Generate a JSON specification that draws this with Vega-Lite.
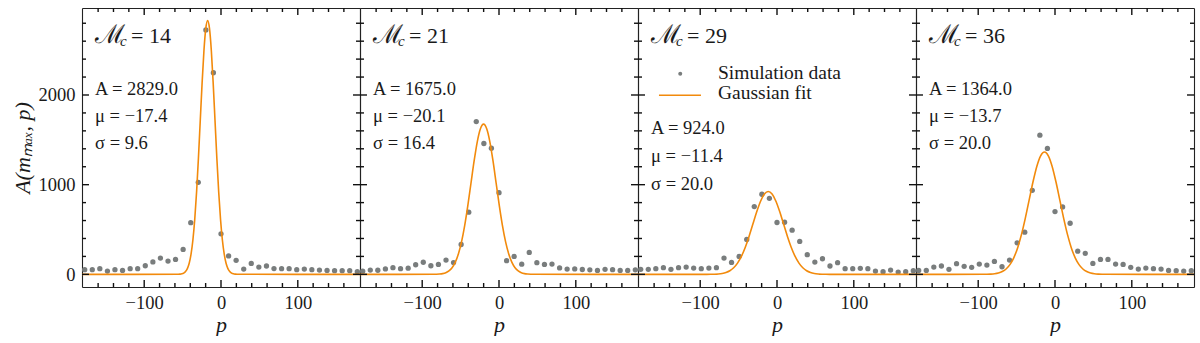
{
"$schema": "https://vega.github.io/schema/vega-lite/v6.json",
"padding": {"left": 11, "top": 7, "right": 8, "bottom": 0},
"spacing": 0,
"bounds": "flush",
"config": {
  "font": "Liberation Serif",
  "view": {"stroke": null},
  "axis": {"domainColor": "#222222", "domainWidth": 1.1, "labelFontSize": 18.5, "labelColor": "#1a1a1a", "titleColor": "#1a1a1a", "titleFontWeight": "normal", "grid": false, "labelFont": "Liberation Serif", "titleFont": "Liberation Serif", "minExtent": 0},
  "text": {"font": "Liberation Serif", "color": "#1a1a1a"},
  "rule": {"color": "#111111", "strokeWidth": 1.4}
},
"datasets": {
  "labels": [
    {"panel": 1, "mc": "= 14", "amp": "A = 2829.0", "mu": "μ = −17.4", "sigma": "σ = 9.6"},
    {"panel": 2, "mc": "= 21", "amp": "A = 1675.0", "mu": "μ = −20.1", "sigma": "σ = 16.4"},
    {"panel": 3, "mc": "= 29", "amp": "A = 924.0", "mu": "μ = −11.4", "sigma": "σ = 20.0"},
    {"panel": 4, "mc": "= 36", "amp": "A = 1364.0", "mu": "μ = −13.7", "sigma": "σ = 20.0"}
  ],
  "legend": [
    {"item": "Simulation data"},
    {"item": "Gaussian fit"}
  ],
  "tickvals": [
    {"dir":"x","kind":"major","v":-100},{"dir":"x","kind":"major","v":0},{"dir":"x","kind":"major","v":100},
    {"dir":"x","kind":"minor","v":-160},{"dir":"x","kind":"minor","v":-140},{"dir":"x","kind":"minor","v":-120},{"dir":"x","kind":"minor","v":-80},{"dir":"x","kind":"minor","v":-60},{"dir":"x","kind":"minor","v":-40},{"dir":"x","kind":"minor","v":-20},{"dir":"x","kind":"minor","v":20},{"dir":"x","kind":"minor","v":40},{"dir":"x","kind":"minor","v":60},{"dir":"x","kind":"minor","v":80},{"dir":"x","kind":"minor","v":120},{"dir":"x","kind":"minor","v":140},{"dir":"x","kind":"minor","v":160},
    {"dir":"y","kind":"major","v":0},{"dir":"y","kind":"major","v":1000},{"dir":"y","kind":"major","v":2000},
    {"dir":"y","kind":"minor","v":200},{"dir":"y","kind":"minor","v":400},{"dir":"y","kind":"minor","v":600},{"dir":"y","kind":"minor","v":800},{"dir":"y","kind":"minor","v":1200},{"dir":"y","kind":"minor","v":1400},{"dir":"y","kind":"minor","v":1600},{"dir":"y","kind":"minor","v":1800},{"dir":"y","kind":"minor","v":2200},{"dir":"y","kind":"minor","v":2400},{"dir":"y","kind":"minor","v":2600},{"dir":"y","kind":"minor","v":2800}
  ],
  "points": [
    {"panel":1,"p":-177.5,"A":52},{"panel":1,"p":-167.6,"A":52},{"panel":1,"p":-157.8,"A":63},{"panel":1,"p":-147.9,"A":37},{"panel":1,"p":-138.1,"A":52},{"panel":1,"p":-128.2,"A":44},{"panel":1,"p":-118.3,"A":63},{"panel":1,"p":-108.5,"A":63},{"panel":1,"p":-98.6,"A":96},{"panel":1,"p":-88.7,"A":139},{"panel":1,"p":-78.9,"A":181},{"panel":1,"p":-69,"A":148},{"panel":1,"p":-59.2,"A":167},{"panel":1,"p":-49.3,"A":278},{"panel":1,"p":-39.4,"A":576},{"panel":1,"p":-29.6,"A":1026},{"panel":1,"p":-19.7,"A":2726},{"panel":1,"p":-9.9,"A":2248},{"panel":1,"p":0,"A":452},{"panel":1,"p":9.9,"A":206},{"panel":1,"p":19.7,"A":156},{"panel":1,"p":29.6,"A":59},{"panel":1,"p":39.4,"A":122},{"panel":1,"p":49.3,"A":81},{"panel":1,"p":59.2,"A":93},{"panel":1,"p":69,"A":65},{"panel":1,"p":78.9,"A":63},{"panel":1,"p":88.7,"A":63},{"panel":1,"p":98.6,"A":52},{"panel":1,"p":108.5,"A":59},{"panel":1,"p":118.3,"A":52},{"panel":1,"p":128.2,"A":48},{"panel":1,"p":138.1,"A":44},{"panel":1,"p":147.9,"A":41},{"panel":1,"p":157.8,"A":41},{"panel":1,"p":167.6,"A":41},{"panel":1,"p":177.5,"A":30},
    {"panel":2,"p":-177.5,"A":35},{"panel":2,"p":-167.6,"A":48},{"panel":2,"p":-157.8,"A":46},{"panel":2,"p":-147.9,"A":61},{"panel":2,"p":-138.1,"A":74},{"panel":2,"p":-128.2,"A":63},{"panel":2,"p":-118.3,"A":69},{"panel":2,"p":-108.5,"A":107},{"panel":2,"p":-98.6,"A":135},{"panel":2,"p":-88.7,"A":96},{"panel":2,"p":-78.9,"A":111},{"panel":2,"p":-69,"A":159},{"panel":2,"p":-59.2,"A":131},{"panel":2,"p":-49.3,"A":333},{"panel":2,"p":-39.4,"A":693},{"panel":2,"p":-29.6,"A":1704},{"panel":2,"p":-19.7,"A":1459},{"panel":2,"p":-9.9,"A":1407},{"panel":2,"p":0,"A":911},{"panel":2,"p":9.9,"A":152},{"panel":2,"p":19.7,"A":200},{"panel":2,"p":29.6,"A":113},{"panel":2,"p":39.4,"A":244},{"panel":2,"p":49.3,"A":130},{"panel":2,"p":59.2,"A":111},{"panel":2,"p":69,"A":115},{"panel":2,"p":78.9,"A":72},{"panel":2,"p":88.7,"A":59},{"panel":2,"p":98.6,"A":61},{"panel":2,"p":108.5,"A":54},{"panel":2,"p":118.3,"A":50},{"panel":2,"p":128.2,"A":44},{"panel":2,"p":138.1,"A":56},{"panel":2,"p":147.9,"A":52},{"panel":2,"p":157.8,"A":44},{"panel":2,"p":167.6,"A":44},{"panel":2,"p":177.5,"A":50},
    {"panel":3,"p":-177.5,"A":56},{"panel":3,"p":-167.6,"A":56},{"panel":3,"p":-157.8,"A":63},{"panel":3,"p":-147.9,"A":74},{"panel":3,"p":-138.1,"A":56},{"panel":3,"p":-128.2,"A":74},{"panel":3,"p":-118.3,"A":81},{"panel":3,"p":-108.5,"A":70},{"panel":3,"p":-98.6,"A":63},{"panel":3,"p":-88.7,"A":70},{"panel":3,"p":-78.9,"A":74},{"panel":3,"p":-69,"A":181},{"panel":3,"p":-59.2,"A":133},{"panel":3,"p":-49.3,"A":200},{"panel":3,"p":-39.4,"A":389},{"panel":3,"p":-29.6,"A":756},{"panel":3,"p":-19.7,"A":893},{"panel":3,"p":-9.9,"A":848},{"panel":3,"p":0,"A":578},{"panel":3,"p":9.9,"A":581},{"panel":3,"p":19.7,"A":493},{"panel":3,"p":29.6,"A":367},{"panel":3,"p":39.4,"A":219},{"panel":3,"p":49.3,"A":137},{"panel":3,"p":59.2,"A":174},{"panel":3,"p":69,"A":93},{"panel":3,"p":78.9,"A":130},{"panel":3,"p":88.7,"A":63},{"panel":3,"p":98.6,"A":63},{"panel":3,"p":108.5,"A":67},{"panel":3,"p":118.3,"A":63},{"panel":3,"p":128.2,"A":37},{"panel":3,"p":138.1,"A":30},{"panel":3,"p":147.9,"A":48},{"panel":3,"p":157.8,"A":26},{"panel":3,"p":167.6,"A":30},{"panel":3,"p":177.5,"A":41},
    {"panel":4,"p":-177.5,"A":44},{"panel":4,"p":-167.6,"A":44},{"panel":4,"p":-157.8,"A":81},{"panel":4,"p":-147.9,"A":93},{"panel":4,"p":-138.1,"A":56},{"panel":4,"p":-128.2,"A":119},{"panel":4,"p":-118.3,"A":89},{"panel":4,"p":-108.5,"A":78},{"panel":4,"p":-98.6,"A":115},{"panel":4,"p":-88.7,"A":104},{"panel":4,"p":-78.9,"A":144},{"panel":4,"p":-69,"A":85},{"panel":4,"p":-59.2,"A":159},{"panel":4,"p":-49.3,"A":352},{"panel":4,"p":-39.4,"A":470},{"panel":4,"p":-29.6,"A":937},{"panel":4,"p":-19.7,"A":1552},{"panel":4,"p":-9.9,"A":1404},{"panel":4,"p":0,"A":700},{"panel":4,"p":9.9,"A":752},{"panel":4,"p":19.7,"A":570},{"panel":4,"p":29.6,"A":259},{"panel":4,"p":39.4,"A":233},{"panel":4,"p":49.3,"A":122},{"panel":4,"p":59.2,"A":167},{"panel":4,"p":69,"A":167},{"panel":4,"p":78.9,"A":115},{"panel":4,"p":88.7,"A":111},{"panel":4,"p":98.6,"A":78},{"panel":4,"p":108.5,"A":59},{"panel":4,"p":118.3,"A":70},{"panel":4,"p":128.2,"A":63},{"panel":4,"p":138.1,"A":59},{"panel":4,"p":147.9,"A":44},{"panel":4,"p":157.8,"A":41},{"panel":4,"p":167.6,"A":37},{"panel":4,"p":177.5,"A":41}
  ],
  "fit": [
    {"panel":1,"p":-181,"A":0},{"panel":1,"p":-55.8,"A":0.9},{"panel":1,"p":-53.4,"A":2.5},{"panel":1,"p":-51,"A":6.2},{"panel":1,"p":-48.6,"A":14.4},{"panel":1,"p":-46.2,"A":31.4},{"panel":1,"p":-43.8,"A":64.5},{"panel":1,"p":-41.4,"A":124.3},{"panel":1,"p":-39,"A":225.1},{"panel":1,"p":-36.6,"A":382.9},{"panel":1,"p":-34.2,"A":611.8},{"panel":1,"p":-31.8,"A":918.4},{"panel":1,"p":-29.4,"A":1295.2},{"panel":1,"p":-27,"A":1715.9},{"panel":1,"p":-24.6,"A":2135.4},{"panel":1,"p":-22.2,"A":2496.6},{"panel":1,"p":-19.8,"A":2741.9},{"panel":1,"p":-17.4,"A":2829},{"panel":1,"p":-15,"A":2741.9},{"panel":1,"p":-12.6,"A":2496.6},{"panel":1,"p":-10.2,"A":2135.4},{"panel":1,"p":-7.8,"A":1715.9},{"panel":1,"p":-5.4,"A":1295.2},{"panel":1,"p":-3,"A":918.4},{"panel":1,"p":-0.6,"A":611.8},{"panel":1,"p":1.8,"A":382.9},{"panel":1,"p":4.2,"A":225.1},{"panel":1,"p":6.6,"A":124.3},{"panel":1,"p":9,"A":64.5},{"panel":1,"p":11.4,"A":31.4},{"panel":1,"p":13.8,"A":14.4},{"panel":1,"p":16.2,"A":6.2},{"panel":1,"p":18.6,"A":2.5},{"panel":1,"p":21,"A":0.9},{"panel":1,"p":181,"A":0},
    {"panel":2,"p":-181,"A":0},{"panel":2,"p":-85.7,"A":0.6},{"panel":2,"p":-81.6,"A":1.5},{"panel":2,"p":-77.5,"A":3.7},{"panel":2,"p":-73.4,"A":8.5},{"panel":2,"p":-69.3,"A":18.6},{"panel":2,"p":-65.2,"A":38.2},{"panel":2,"p":-61.1,"A":73.6},{"panel":2,"p":-57,"A":133.3},{"panel":2,"p":-52.9,"A":226.7},{"panel":2,"p":-48.8,"A":362.3},{"panel":2,"p":-44.7,"A":543.8},{"panel":2,"p":-40.6,"A":766.9},{"panel":2,"p":-36.5,"A":1015.9},{"panel":2,"p":-32.4,"A":1264.4},{"panel":2,"p":-28.3,"A":1478.2},{"panel":2,"p":-24.2,"A":1623.5},{"panel":2,"p":-20.1,"A":1675},{"panel":2,"p":-16,"A":1623.5},{"panel":2,"p":-11.9,"A":1478.2},{"panel":2,"p":-7.8,"A":1264.4},{"panel":2,"p":-3.7,"A":1015.9},{"panel":2,"p":0.4,"A":766.9},{"panel":2,"p":4.5,"A":543.8},{"panel":2,"p":8.6,"A":362.3},{"panel":2,"p":12.7,"A":226.7},{"panel":2,"p":16.8,"A":133.3},{"panel":2,"p":20.9,"A":73.6},{"panel":2,"p":25,"A":38.2},{"panel":2,"p":29.1,"A":18.6},{"panel":2,"p":33.2,"A":8.5},{"panel":2,"p":37.3,"A":3.7},{"panel":2,"p":41.4,"A":1.5},{"panel":2,"p":45.5,"A":0.6},{"panel":2,"p":181,"A":0},
    {"panel":3,"p":-181,"A":0},{"panel":3,"p":-91.4,"A":0.3},{"panel":3,"p":-86.4,"A":0.8},{"panel":3,"p":-81.4,"A":2},{"panel":3,"p":-76.4,"A":4.7},{"panel":3,"p":-71.4,"A":10.3},{"panel":3,"p":-66.4,"A":21.1},{"panel":3,"p":-61.4,"A":40.6},{"panel":3,"p":-56.4,"A":73.5},{"panel":3,"p":-51.4,"A":125.1},{"panel":3,"p":-46.4,"A":199.8},{"panel":3,"p":-41.4,"A":300},{"panel":3,"p":-36.4,"A":423},{"panel":3,"p":-31.4,"A":560.4},{"panel":3,"p":-26.4,"A":697.5},{"panel":3,"p":-21.4,"A":815.4},{"panel":3,"p":-16.4,"A":895.6},{"panel":3,"p":-11.4,"A":924},{"panel":3,"p":-6.4,"A":895.6},{"panel":3,"p":-1.4,"A":815.4},{"panel":3,"p":3.6,"A":697.5},{"panel":3,"p":8.6,"A":560.4},{"panel":3,"p":13.6,"A":423},{"panel":3,"p":18.6,"A":300},{"panel":3,"p":23.6,"A":199.8},{"panel":3,"p":28.6,"A":125.1},{"panel":3,"p":33.6,"A":73.5},{"panel":3,"p":38.6,"A":40.6},{"panel":3,"p":43.6,"A":21.1},{"panel":3,"p":48.6,"A":10.3},{"panel":3,"p":53.6,"A":4.7},{"panel":3,"p":58.6,"A":2},{"panel":3,"p":63.6,"A":0.8},{"panel":3,"p":68.6,"A":0.3},{"panel":3,"p":181,"A":0},
    {"panel":4,"p":-181,"A":0},{"panel":4,"p":-93.7,"A":0.5},{"panel":4,"p":-88.7,"A":1.2},{"panel":4,"p":-83.7,"A":3},{"panel":4,"p":-78.7,"A":6.9},{"panel":4,"p":-73.7,"A":15.2},{"panel":4,"p":-68.7,"A":31.1},{"panel":4,"p":-63.7,"A":59.9},{"panel":4,"p":-58.7,"A":108.5},{"panel":4,"p":-53.7,"A":184.6},{"panel":4,"p":-48.7,"A":295},{"panel":4,"p":-43.7,"A":442.8},{"panel":4,"p":-38.7,"A":624.5},{"panel":4,"p":-33.7,"A":827.3},{"panel":4,"p":-28.7,"A":1029.6},{"panel":4,"p":-23.7,"A":1203.7},{"panel":4,"p":-18.7,"A":1322},{"panel":4,"p":-13.7,"A":1364},{"panel":4,"p":-8.7,"A":1322},{"panel":4,"p":-3.7,"A":1203.7},{"panel":4,"p":1.3,"A":1029.6},{"panel":4,"p":6.3,"A":827.3},{"panel":4,"p":11.3,"A":624.5},{"panel":4,"p":16.3,"A":442.8},{"panel":4,"p":21.3,"A":295},{"panel":4,"p":26.3,"A":184.6},{"panel":4,"p":31.3,"A":108.5},{"panel":4,"p":36.3,"A":59.9},{"panel":4,"p":41.3,"A":31.1},{"panel":4,"p":46.3,"A":15.2},{"panel":4,"p":51.3,"A":6.9},{"panel":4,"p":56.3,"A":3},{"panel":4,"p":61.3,"A":1.2},{"panel":4,"p":66.3,"A":0.5},{"panel":4,"p":181,"A":0}
  ]
},
"hconcat": [
  {
    "width": 278, "height": 279,
    "resolve": {"axis": {"x": "independent", "y": "independent"}},
    "layer": [
      {"data": {"name": "points"}, "transform": [{"filter": "datum.panel === 1"}],
       "mark": {"type": "point", "filled": true, "size": 28, "opacity": 1, "color": "#797d7d"},
       "encoding": {
         "x": {"field": "p", "type": "quantitative", "scale": {"domain": [-181, 181], "nice": false, "zero": false},
               "axis": {"orient": "bottom", "values": [-100, 0, 100], "format": "d", "ticks": false, "labelPadding": 6, "labelFlush": false, "title": "p", "titleFontStyle": "italic", "titleFontSize": 22, "titlePadding": 3}},
         "y": {"field": "A", "type": "quantitative", "scale": {"domain": [-141, 2970], "nice": false, "zero": false},
               "axis": {"orient": "left", "values": [0, 1000, 2000], "format": "d", "ticks": false, "labelPadding": 7, "labelFlush": false, "title": "A(mₘₐₓ, p)", "titleFontStyle": "italic", "titleFontSize": 22, "titlePadding": 4}}
       }},
      {"data": {"name": "fit"}, "transform": [{"filter": "datum.panel === 1"}],
       "mark": {"type": "line", "color": "#f28a0c", "strokeWidth": 1.6, "interpolate": "monotone", "clip": true},
       "encoding": {
         "x": {"field": "p", "type": "quantitative", "scale": {"domain": [-181, 181], "nice": false, "zero": false}, "axis": {"orient": "top", "values": [0], "ticks": false, "labels": false, "title": null}},
         "y": {"field": "A", "type": "quantitative", "scale": {"domain": [-141, 2970], "nice": false, "zero": false}, "axis": {"orient": "right", "values": [0], "ticks": false, "labels": false, "title": null}}
       }},
      {"data": {"name": "tickvals"}, "transform": [{"filter": "datum.dir === 'x' && datum.kind === 'major'"}], "mark": "rule",
       "encoding": {"x": {"field": "v", "type": "quantitative", "axis": null}, "y": {"datum": -141, "type": "quantitative", "axis": null}, "y2": {"datum": -63}}},
      {"data": {"name": "tickvals"}, "transform": [{"filter": "datum.dir === 'x' && datum.kind === 'minor'"}], "mark": "rule",
       "encoding": {"x": {"field": "v", "type": "quantitative", "axis": null}, "y": {"datum": -141, "type": "quantitative", "axis": null}, "y2": {"datum": -96.4}}},
      {"data": {"name": "tickvals"}, "transform": [{"filter": "datum.dir === 'x' && datum.kind === 'major'"}], "mark": "rule",
       "encoding": {"x": {"field": "v", "type": "quantitative", "axis": null}, "y": {"datum": 2970, "type": "quantitative", "axis": null}, "y2": {"datum": 2892}}},
      {"data": {"name": "tickvals"}, "transform": [{"filter": "datum.dir === 'x' && datum.kind === 'minor'"}], "mark": "rule",
       "encoding": {"x": {"field": "v", "type": "quantitative", "axis": null}, "y": {"datum": 2970, "type": "quantitative", "axis": null}, "y2": {"datum": 2925.4}}},
      {"data": {"name": "tickvals"}, "transform": [{"filter": "datum.dir === 'y' && datum.kind === 'major'"}], "mark": "rule",
       "encoding": {"y": {"field": "v", "type": "quantitative", "axis": null}, "x": {"datum": -181, "type": "quantitative", "axis": null}, "x2": {"datum": -171.9}}},
      {"data": {"name": "tickvals"}, "transform": [{"filter": "datum.dir === 'y' && datum.kind === 'minor'"}], "mark": "rule",
       "encoding": {"y": {"field": "v", "type": "quantitative", "axis": null}, "x": {"datum": -181, "type": "quantitative", "axis": null}, "x2": {"datum": -175.8}}},
      {"data": {"name": "tickvals"}, "transform": [{"filter": "datum.dir === 'y' && datum.kind === 'major'"}], "mark": "rule",
       "encoding": {"y": {"field": "v", "type": "quantitative", "axis": null}, "x": {"datum": 181, "type": "quantitative", "axis": null}, "x2": {"datum": 171.9}}},
      {"data": {"name": "tickvals"}, "transform": [{"filter": "datum.dir === 'y' && datum.kind === 'minor'"}], "mark": "rule",
       "encoding": {"y": {"field": "v", "type": "quantitative", "axis": null}, "x": {"datum": 181, "type": "quantitative", "axis": null}, "x2": {"datum": 175.8}}},
      {"data": {"name": "labels"}, "transform": [{"filter": "datum.panel === 1"}],
       "mark": {"type": "text", "align": "left", "baseline": "alphabetic", "fontSize": 18.5},
       "encoding": {"x": {"datum": -164, "type": "quantitative", "axis": null}, "y": {"datum": 2000, "type": "quantitative", "axis": null}, "text": {"field": "amp"}}},
      {"data": {"name": "labels"}, "transform": [{"filter": "datum.panel === 1"}],
       "mark": {"type": "text", "align": "left", "baseline": "alphabetic", "fontSize": 18.5},
       "encoding": {"x": {"datum": -164, "type": "quantitative", "axis": null}, "y": {"datum": 1702, "type": "quantitative", "axis": null}, "text": {"field": "mu"}}},
      {"data": {"name": "labels"}, "transform": [{"filter": "datum.panel === 1"}],
       "mark": {"type": "text", "align": "left", "baseline": "alphabetic", "fontSize": 18.5},
       "encoding": {"x": {"datum": -164, "type": "quantitative", "axis": null}, "y": {"datum": 1394, "type": "quantitative", "axis": null}, "text": {"field": "sigma"}}},
      {"data": {"name": "labels"}, "transform": [{"filter": "datum.panel === 1"}],
       "mark": {"type": "text", "align": "left", "baseline": "alphabetic", "fontSize": 26, "font": "DejaVu Serif"},
       "encoding": {"x": {"datum": -164, "type": "quantitative", "axis": null}, "y": {"datum": 2576, "type": "quantitative", "axis": null}, "text": {"value": "ℳ"}}},
      {"data": {"name": "labels"}, "transform": [{"filter": "datum.panel === 1"}],
       "mark": {"type": "text", "align": "left", "baseline": "alphabetic", "fontSize": 15, "fontStyle": "italic", "dx": 25, "dy": 3},
       "encoding": {"x": {"datum": -164, "type": "quantitative", "axis": null}, "y": {"datum": 2576, "type": "quantitative", "axis": null}, "text": {"value": "c"}}},
      {"data": {"name": "labels"}, "transform": [{"filter": "datum.panel === 1"}],
       "mark": {"type": "text", "align": "left", "baseline": "alphabetic", "fontSize": 22, "dx": 36},
       "encoding": {"x": {"datum": -164, "type": "quantitative", "axis": null}, "y": {"datum": 2576, "type": "quantitative", "axis": null}, "text": {"field": "mc"}}}
    ]
  },
  {
    "width": 278, "height": 279,
    "resolve": {"axis": {"x": "independent", "y": "independent"}},
    "layer": [
      {"data": {"name": "points"}, "transform": [{"filter": "datum.panel === 2"}],
       "mark": {"type": "point", "filled": true, "size": 28, "opacity": 1, "color": "#797d7d"},
       "encoding": {
         "x": {"field": "p", "type": "quantitative", "scale": {"domain": [-181, 181], "nice": false, "zero": false},
               "axis": {"orient": "bottom", "values": [-100, 0, 100], "format": "d", "ticks": false, "labelPadding": 6, "labelFlush": false, "title": "p", "titleFontStyle": "italic", "titleFontSize": 22, "titlePadding": 3}},
         "y": {"field": "A", "type": "quantitative", "scale": {"domain": [-141, 2970], "nice": false, "zero": false},
               "axis": {"orient": "left", "values": [0], "ticks": false, "labels": false, "title": null}}
       }},
      {"data": {"name": "fit"}, "transform": [{"filter": "datum.panel === 2"}],
       "mark": {"type": "line", "color": "#f28a0c", "strokeWidth": 1.6, "interpolate": "monotone", "clip": true},
       "encoding": {
         "x": {"field": "p", "type": "quantitative", "scale": {"domain": [-181, 181], "nice": false, "zero": false}, "axis": {"orient": "top", "values": [0], "ticks": false, "labels": false, "title": null}},
         "y": {"field": "A", "type": "quantitative", "scale": {"domain": [-141, 2970], "nice": false, "zero": false}, "axis": {"orient": "right", "values": [0], "ticks": false, "labels": false, "title": null}}
       }},
      {"data": {"name": "tickvals"}, "transform": [{"filter": "datum.dir === 'x' && datum.kind === 'major'"}], "mark": "rule",
       "encoding": {"x": {"field": "v", "type": "quantitative", "axis": null}, "y": {"datum": -141, "type": "quantitative", "axis": null}, "y2": {"datum": -63}}},
      {"data": {"name": "tickvals"}, "transform": [{"filter": "datum.dir === 'x' && datum.kind === 'minor'"}], "mark": "rule",
       "encoding": {"x": {"field": "v", "type": "quantitative", "axis": null}, "y": {"datum": -141, "type": "quantitative", "axis": null}, "y2": {"datum": -96.4}}},
      {"data": {"name": "tickvals"}, "transform": [{"filter": "datum.dir === 'x' && datum.kind === 'major'"}], "mark": "rule",
       "encoding": {"x": {"field": "v", "type": "quantitative", "axis": null}, "y": {"datum": 2970, "type": "quantitative", "axis": null}, "y2": {"datum": 2892}}},
      {"data": {"name": "tickvals"}, "transform": [{"filter": "datum.dir === 'x' && datum.kind === 'minor'"}], "mark": "rule",
       "encoding": {"x": {"field": "v", "type": "quantitative", "axis": null}, "y": {"datum": 2970, "type": "quantitative", "axis": null}, "y2": {"datum": 2925.4}}},
      {"data": {"name": "tickvals"}, "transform": [{"filter": "datum.dir === 'y' && datum.kind === 'major'"}], "mark": "rule",
       "encoding": {"y": {"field": "v", "type": "quantitative", "axis": null}, "x": {"datum": -181, "type": "quantitative", "axis": null}, "x2": {"datum": -171.9}}},
      {"data": {"name": "tickvals"}, "transform": [{"filter": "datum.dir === 'y' && datum.kind === 'minor'"}], "mark": "rule",
       "encoding": {"y": {"field": "v", "type": "quantitative", "axis": null}, "x": {"datum": -181, "type": "quantitative", "axis": null}, "x2": {"datum": -175.8}}},
      {"data": {"name": "tickvals"}, "transform": [{"filter": "datum.dir === 'y' && datum.kind === 'major'"}], "mark": "rule",
       "encoding": {"y": {"field": "v", "type": "quantitative", "axis": null}, "x": {"datum": 181, "type": "quantitative", "axis": null}, "x2": {"datum": 171.9}}},
      {"data": {"name": "tickvals"}, "transform": [{"filter": "datum.dir === 'y' && datum.kind === 'minor'"}], "mark": "rule",
       "encoding": {"y": {"field": "v", "type": "quantitative", "axis": null}, "x": {"datum": 181, "type": "quantitative", "axis": null}, "x2": {"datum": 175.8}}},
      {"data": {"name": "labels"}, "transform": [{"filter": "datum.panel === 2"}],
       "mark": {"type": "text", "align": "left", "baseline": "alphabetic", "fontSize": 18.5},
       "encoding": {"x": {"datum": -164, "type": "quantitative", "axis": null}, "y": {"datum": 2000, "type": "quantitative", "axis": null}, "text": {"field": "amp"}}},
      {"data": {"name": "labels"}, "transform": [{"filter": "datum.panel === 2"}],
       "mark": {"type": "text", "align": "left", "baseline": "alphabetic", "fontSize": 18.5},
       "encoding": {"x": {"datum": -164, "type": "quantitative", "axis": null}, "y": {"datum": 1702, "type": "quantitative", "axis": null}, "text": {"field": "mu"}}},
      {"data": {"name": "labels"}, "transform": [{"filter": "datum.panel === 2"}],
       "mark": {"type": "text", "align": "left", "baseline": "alphabetic", "fontSize": 18.5},
       "encoding": {"x": {"datum": -164, "type": "quantitative", "axis": null}, "y": {"datum": 1394, "type": "quantitative", "axis": null}, "text": {"field": "sigma"}}},
      {"data": {"name": "labels"}, "transform": [{"filter": "datum.panel === 2"}],
       "mark": {"type": "text", "align": "left", "baseline": "alphabetic", "fontSize": 26, "font": "DejaVu Serif"},
       "encoding": {"x": {"datum": -164, "type": "quantitative", "axis": null}, "y": {"datum": 2576, "type": "quantitative", "axis": null}, "text": {"value": "ℳ"}}},
      {"data": {"name": "labels"}, "transform": [{"filter": "datum.panel === 2"}],
       "mark": {"type": "text", "align": "left", "baseline": "alphabetic", "fontSize": 15, "fontStyle": "italic", "dx": 25, "dy": 3},
       "encoding": {"x": {"datum": -164, "type": "quantitative", "axis": null}, "y": {"datum": 2576, "type": "quantitative", "axis": null}, "text": {"value": "c"}}},
      {"data": {"name": "labels"}, "transform": [{"filter": "datum.panel === 2"}],
       "mark": {"type": "text", "align": "left", "baseline": "alphabetic", "fontSize": 22, "dx": 36},
       "encoding": {"x": {"datum": -164, "type": "quantitative", "axis": null}, "y": {"datum": 2576, "type": "quantitative", "axis": null}, "text": {"field": "mc"}}}
    ]
  },
  {
    "width": 278, "height": 279,
    "resolve": {"axis": {"x": "independent", "y": "independent"}},
    "layer": [
      {"data": {"name": "points"}, "transform": [{"filter": "datum.panel === 3"}],
       "mark": {"type": "point", "filled": true, "size": 28, "opacity": 1, "color": "#797d7d"},
       "encoding": {
         "x": {"field": "p", "type": "quantitative", "scale": {"domain": [-181, 181], "nice": false, "zero": false},
               "axis": {"orient": "bottom", "values": [-100, 0, 100], "format": "d", "ticks": false, "labelPadding": 6, "labelFlush": false, "title": "p", "titleFontStyle": "italic", "titleFontSize": 22, "titlePadding": 3}},
         "y": {"field": "A", "type": "quantitative", "scale": {"domain": [-141, 2970], "nice": false, "zero": false},
               "axis": {"orient": "left", "values": [0], "ticks": false, "labels": false, "title": null}}
       }},
      {"data": {"name": "fit"}, "transform": [{"filter": "datum.panel === 3"}],
       "mark": {"type": "line", "color": "#f28a0c", "strokeWidth": 1.6, "interpolate": "monotone", "clip": true},
       "encoding": {
         "x": {"field": "p", "type": "quantitative", "scale": {"domain": [-181, 181], "nice": false, "zero": false}, "axis": {"orient": "top", "values": [0], "ticks": false, "labels": false, "title": null}},
         "y": {"field": "A", "type": "quantitative", "scale": {"domain": [-141, 2970], "nice": false, "zero": false}, "axis": {"orient": "right", "values": [0], "ticks": false, "labels": false, "title": null}}
       }},
      {"data": {"name": "tickvals"}, "transform": [{"filter": "datum.dir === 'x' && datum.kind === 'major'"}], "mark": "rule",
       "encoding": {"x": {"field": "v", "type": "quantitative", "axis": null}, "y": {"datum": -141, "type": "quantitative", "axis": null}, "y2": {"datum": -63}}},
      {"data": {"name": "tickvals"}, "transform": [{"filter": "datum.dir === 'x' && datum.kind === 'minor'"}], "mark": "rule",
       "encoding": {"x": {"field": "v", "type": "quantitative", "axis": null}, "y": {"datum": -141, "type": "quantitative", "axis": null}, "y2": {"datum": -96.4}}},
      {"data": {"name": "tickvals"}, "transform": [{"filter": "datum.dir === 'x' && datum.kind === 'major'"}], "mark": "rule",
       "encoding": {"x": {"field": "v", "type": "quantitative", "axis": null}, "y": {"datum": 2970, "type": "quantitative", "axis": null}, "y2": {"datum": 2892}}},
      {"data": {"name": "tickvals"}, "transform": [{"filter": "datum.dir === 'x' && datum.kind === 'minor'"}], "mark": "rule",
       "encoding": {"x": {"field": "v", "type": "quantitative", "axis": null}, "y": {"datum": 2970, "type": "quantitative", "axis": null}, "y2": {"datum": 2925.4}}},
      {"data": {"name": "tickvals"}, "transform": [{"filter": "datum.dir === 'y' && datum.kind === 'major'"}], "mark": "rule",
       "encoding": {"y": {"field": "v", "type": "quantitative", "axis": null}, "x": {"datum": -181, "type": "quantitative", "axis": null}, "x2": {"datum": -171.9}}},
      {"data": {"name": "tickvals"}, "transform": [{"filter": "datum.dir === 'y' && datum.kind === 'minor'"}], "mark": "rule",
       "encoding": {"y": {"field": "v", "type": "quantitative", "axis": null}, "x": {"datum": -181, "type": "quantitative", "axis": null}, "x2": {"datum": -175.8}}},
      {"data": {"name": "tickvals"}, "transform": [{"filter": "datum.dir === 'y' && datum.kind === 'major'"}], "mark": "rule",
       "encoding": {"y": {"field": "v", "type": "quantitative", "axis": null}, "x": {"datum": 181, "type": "quantitative", "axis": null}, "x2": {"datum": 171.9}}},
      {"data": {"name": "tickvals"}, "transform": [{"filter": "datum.dir === 'y' && datum.kind === 'minor'"}], "mark": "rule",
       "encoding": {"y": {"field": "v", "type": "quantitative", "axis": null}, "x": {"datum": 181, "type": "quantitative", "axis": null}, "x2": {"datum": 175.8}}},
      {"data": {"name": "labels"}, "transform": [{"filter": "datum.panel === 3"}],
       "mark": {"type": "text", "align": "left", "baseline": "alphabetic", "fontSize": 18.5},
       "encoding": {"x": {"datum": -164, "type": "quantitative", "axis": null}, "y": {"datum": 1569, "type": "quantitative", "axis": null}, "text": {"field": "amp"}}},
      {"data": {"name": "labels"}, "transform": [{"filter": "datum.panel === 3"}],
       "mark": {"type": "text", "align": "left", "baseline": "alphabetic", "fontSize": 18.5},
       "encoding": {"x": {"datum": -164, "type": "quantitative", "axis": null}, "y": {"datum": 1253, "type": "quantitative", "axis": null}, "text": {"field": "mu"}}},
      {"data": {"name": "labels"}, "transform": [{"filter": "datum.panel === 3"}],
       "mark": {"type": "text", "align": "left", "baseline": "alphabetic", "fontSize": 18.5},
       "encoding": {"x": {"datum": -164, "type": "quantitative", "axis": null}, "y": {"datum": 944, "type": "quantitative", "axis": null}, "text": {"field": "sigma"}}},
      {"data": {"name": "labels"}, "transform": [{"filter": "datum.panel === 3"}],
       "mark": {"type": "text", "align": "left", "baseline": "alphabetic", "fontSize": 26, "font": "DejaVu Serif"},
       "encoding": {"x": {"datum": -164, "type": "quantitative", "axis": null}, "y": {"datum": 2576, "type": "quantitative", "axis": null}, "text": {"value": "ℳ"}}},
      {"data": {"name": "labels"}, "transform": [{"filter": "datum.panel === 3"}],
       "mark": {"type": "text", "align": "left", "baseline": "alphabetic", "fontSize": 15, "fontStyle": "italic", "dx": 25, "dy": 3},
       "encoding": {"x": {"datum": -164, "type": "quantitative", "axis": null}, "y": {"datum": 2576, "type": "quantitative", "axis": null}, "text": {"value": "c"}}},
      {"data": {"name": "labels"}, "transform": [{"filter": "datum.panel === 3"}],
       "mark": {"type": "text", "align": "left", "baseline": "alphabetic", "fontSize": 22, "dx": 36},
       "encoding": {"x": {"datum": -164, "type": "quantitative", "axis": null}, "y": {"datum": 2576, "type": "quantitative", "axis": null}, "text": {"field": "mc"}}},
      {"data": {"name": "legend"}, "transform": [{"filter": "datum.item === 'Simulation data'"}],
       "mark": {"type": "point", "filled": true, "size": 16, "opacity": 1, "color": "#797d7d"},
       "encoding": {"x": {"datum": -126, "type": "quantitative", "axis": null}, "y": {"datum": 2237, "type": "quantitative", "axis": null}}},
      {"data": {"name": "legend"}, "transform": [{"filter": "datum.item === 'Gaussian fit'"}],
       "mark": {"type": "rule", "color": "#f28a0c", "strokeWidth": 1.6},
       "encoding": {"x": {"datum": -153.7, "type": "quantitative", "axis": null}, "x2": {"datum": -99}, "y": {"datum": 1997, "type": "quantitative", "axis": null}}},
      {"data": {"name": "legend"}, "transform": [{"filter": "datum.item === 'Simulation data'"}],
       "mark": {"type": "text", "align": "left", "baseline": "alphabetic", "fontSize": 19.5},
       "encoding": {"x": {"datum": -76.8, "type": "quantitative", "axis": null}, "y": {"datum": 2175, "type": "quantitative", "axis": null}, "text": {"field": "item"}}},
      {"data": {"name": "legend"}, "transform": [{"filter": "datum.item === 'Gaussian fit'"}],
       "mark": {"type": "text", "align": "left", "baseline": "alphabetic", "fontSize": 19.5},
       "encoding": {"x": {"datum": -76.8, "type": "quantitative", "axis": null}, "y": {"datum": 1959, "type": "quantitative", "axis": null}, "text": {"field": "item"}}}
    ]
  },
  {
    "width": 278, "height": 279,
    "resolve": {"axis": {"x": "independent", "y": "independent"}},
    "layer": [
      {"data": {"name": "points"}, "transform": [{"filter": "datum.panel === 4"}],
       "mark": {"type": "point", "filled": true, "size": 28, "opacity": 1, "color": "#797d7d"},
       "encoding": {
         "x": {"field": "p", "type": "quantitative", "scale": {"domain": [-181, 181], "nice": false, "zero": false},
               "axis": {"orient": "bottom", "values": [-100, 0, 100], "format": "d", "ticks": false, "labelPadding": 6, "labelFlush": false, "title": "p", "titleFontStyle": "italic", "titleFontSize": 22, "titlePadding": 3}},
         "y": {"field": "A", "type": "quantitative", "scale": {"domain": [-141, 2970], "nice": false, "zero": false},
               "axis": {"orient": "left", "values": [0], "ticks": false, "labels": false, "title": null}}
       }},
      {"data": {"name": "fit"}, "transform": [{"filter": "datum.panel === 4"}],
       "mark": {"type": "line", "color": "#f28a0c", "strokeWidth": 1.6, "interpolate": "monotone", "clip": true},
       "encoding": {
         "x": {"field": "p", "type": "quantitative", "scale": {"domain": [-181, 181], "nice": false, "zero": false}, "axis": {"orient": "top", "values": [0], "ticks": false, "labels": false, "title": null}},
         "y": {"field": "A", "type": "quantitative", "scale": {"domain": [-141, 2970], "nice": false, "zero": false}, "axis": {"orient": "right", "values": [0], "ticks": false, "labels": false, "title": null}}
       }},
      {"data": {"name": "tickvals"}, "transform": [{"filter": "datum.dir === 'x' && datum.kind === 'major'"}], "mark": "rule",
       "encoding": {"x": {"field": "v", "type": "quantitative", "axis": null}, "y": {"datum": -141, "type": "quantitative", "axis": null}, "y2": {"datum": -63}}},
      {"data": {"name": "tickvals"}, "transform": [{"filter": "datum.dir === 'x' && datum.kind === 'minor'"}], "mark": "rule",
       "encoding": {"x": {"field": "v", "type": "quantitative", "axis": null}, "y": {"datum": -141, "type": "quantitative", "axis": null}, "y2": {"datum": -96.4}}},
      {"data": {"name": "tickvals"}, "transform": [{"filter": "datum.dir === 'x' && datum.kind === 'major'"}], "mark": "rule",
       "encoding": {"x": {"field": "v", "type": "quantitative", "axis": null}, "y": {"datum": 2970, "type": "quantitative", "axis": null}, "y2": {"datum": 2892}}},
      {"data": {"name": "tickvals"}, "transform": [{"filter": "datum.dir === 'x' && datum.kind === 'minor'"}], "mark": "rule",
       "encoding": {"x": {"field": "v", "type": "quantitative", "axis": null}, "y": {"datum": 2970, "type": "quantitative", "axis": null}, "y2": {"datum": 2925.4}}},
      {"data": {"name": "tickvals"}, "transform": [{"filter": "datum.dir === 'y' && datum.kind === 'major'"}], "mark": "rule",
       "encoding": {"y": {"field": "v", "type": "quantitative", "axis": null}, "x": {"datum": -181, "type": "quantitative", "axis": null}, "x2": {"datum": -171.9}}},
      {"data": {"name": "tickvals"}, "transform": [{"filter": "datum.dir === 'y' && datum.kind === 'minor'"}], "mark": "rule",
       "encoding": {"y": {"field": "v", "type": "quantitative", "axis": null}, "x": {"datum": -181, "type": "quantitative", "axis": null}, "x2": {"datum": -175.8}}},
      {"data": {"name": "tickvals"}, "transform": [{"filter": "datum.dir === 'y' && datum.kind === 'major'"}], "mark": "rule",
       "encoding": {"y": {"field": "v", "type": "quantitative", "axis": null}, "x": {"datum": 181, "type": "quantitative", "axis": null}, "x2": {"datum": 171.9}}},
      {"data": {"name": "tickvals"}, "transform": [{"filter": "datum.dir === 'y' && datum.kind === 'minor'"}], "mark": "rule",
       "encoding": {"y": {"field": "v", "type": "quantitative", "axis": null}, "x": {"datum": 181, "type": "quantitative", "axis": null}, "x2": {"datum": 175.8}}},
      {"data": {"name": "labels"}, "transform": [{"filter": "datum.panel === 4"}],
       "mark": {"type": "text", "align": "left", "baseline": "alphabetic", "fontSize": 18.5},
       "encoding": {"x": {"datum": -164, "type": "quantitative", "axis": null}, "y": {"datum": 2000, "type": "quantitative", "axis": null}, "text": {"field": "amp"}}},
      {"data": {"name": "labels"}, "transform": [{"filter": "datum.panel === 4"}],
       "mark": {"type": "text", "align": "left", "baseline": "alphabetic", "fontSize": 18.5},
       "encoding": {"x": {"datum": -164, "type": "quantitative", "axis": null}, "y": {"datum": 1702, "type": "quantitative", "axis": null}, "text": {"field": "mu"}}},
      {"data": {"name": "labels"}, "transform": [{"filter": "datum.panel === 4"}],
       "mark": {"type": "text", "align": "left", "baseline": "alphabetic", "fontSize": 18.5},
       "encoding": {"x": {"datum": -164, "type": "quantitative", "axis": null}, "y": {"datum": 1394, "type": "quantitative", "axis": null}, "text": {"field": "sigma"}}},
      {"data": {"name": "labels"}, "transform": [{"filter": "datum.panel === 4"}],
       "mark": {"type": "text", "align": "left", "baseline": "alphabetic", "fontSize": 26, "font": "DejaVu Serif"},
       "encoding": {"x": {"datum": -164, "type": "quantitative", "axis": null}, "y": {"datum": 2576, "type": "quantitative", "axis": null}, "text": {"value": "ℳ"}}},
      {"data": {"name": "labels"}, "transform": [{"filter": "datum.panel === 4"}],
       "mark": {"type": "text", "align": "left", "baseline": "alphabetic", "fontSize": 15, "fontStyle": "italic", "dx": 25, "dy": 3},
       "encoding": {"x": {"datum": -164, "type": "quantitative", "axis": null}, "y": {"datum": 2576, "type": "quantitative", "axis": null}, "text": {"value": "c"}}},
      {"data": {"name": "labels"}, "transform": [{"filter": "datum.panel === 4"}],
       "mark": {"type": "text", "align": "left", "baseline": "alphabetic", "fontSize": 22, "dx": 36},
       "encoding": {"x": {"datum": -164, "type": "quantitative", "axis": null}, "y": {"datum": 2576, "type": "quantitative", "axis": null}, "text": {"field": "mc"}}}
    ]
  }
]
}
